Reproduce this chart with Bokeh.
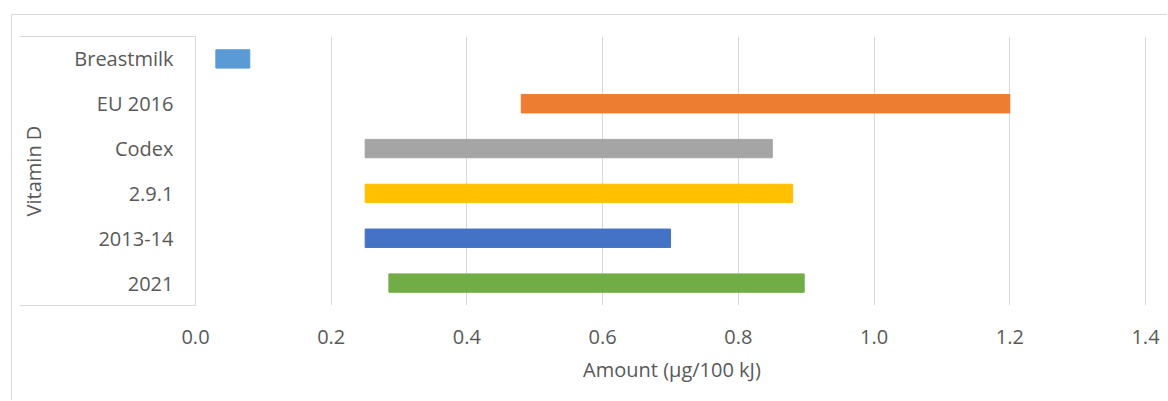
from bokeh.plotting import figure
from bokeh.models import Range1d, FixedTicker, NumeralTickFormatter
from bokeh.embed import file_html
from bokeh.resources import INLINE

# Vitamin D ranges (µg/100 kJ), listed bottom to top
sources = ["2021", "2013-14", "2.9.1", "Codex", "EU 2016", "Breastmilk"]
low = [0.285, 0.25, 0.25, 0.25, 0.48, 0.03]
high = [0.897, 0.70, 0.88, 0.85, 1.20, 0.08]
colors = ["#70AD47", "#4472C4", "#FFC000", "#A5A5A5", "#ED7D31", "#5B9BD5"]
x_ticks = [0.0, 0.2, 0.4, 0.6, 0.8, 1.0, 1.2, 1.4]
group_label = "Vitamin D"
x_title = "Amount (µg/100 kJ)"

FONT = "Open Sans"
SIZE = "20px"
TEXT = "#595959"
LINE = "#D9D9D9"

BOX_WIDTH = 176  # width of the category label box, px
LABEL_GAP = 22   # gap between category labels and the box edge, px

# one row per source, centred in its band
rows = [i + 0.5 for i in range(len(sources))]

p = figure(
    width=1156, height=386,
    y_range=Range1d(0, len(sources)),
    x_range=(0, 1.4044),
    output_backend="svg", toolbar_location=None,
    min_border_left=183, min_border_right=20,
    min_border_top=21, min_border_bottom=96,
    margin=(15, 0, 0, 12),
)
# light chart-area border along the top and left
p.styles = {"box-shadow": "-1px -1px 0 0 #D9D9D9"}
p.outline_line_color = None
p.background_fill_color = "white"
p.border_fill_color = "white"

p.hbar(y=rows, left=low, right=high, height=0.41, color=colors)

# value axis
xa = p.xaxis[0]
xa.ticker = FixedTicker(ticks=x_ticks)
xa.formatter = NumeralTickFormatter(format="0.0")
xa.axis_line_color = None
xa.major_tick_line_color = None
xa.major_tick_out = 0
xa.minor_tick_line_color = None
xa.minor_tick_out = 0
xa.major_label_standoff = 24
xa.major_label_text_font = FONT
xa.major_label_text_font_size = SIZE
xa.major_label_text_color = TEXT
xa.axis_label = x_title
xa.axis_label_text_font = FONT
xa.axis_label_text_font_size = SIZE
xa.axis_label_text_font_style = "normal"
xa.axis_label_text_color = TEXT
xa.axis_label_standoff = 9

# category axis; its minor ticks close the label box at top and bottom
ya = p.yaxis[0]
ya.ticker = FixedTicker(ticks=rows, minor_ticks=[0, len(sources)])
ya.major_label_overrides = {r: s for r, s in zip(rows, sources)}
ya.axis_line_color = LINE
ya.major_tick_line_color = None
ya.major_tick_out = 0
ya.minor_tick_line_color = LINE
ya.minor_tick_in = 0
ya.minor_tick_out = BOX_WIDTH
ya.major_label_standoff = LABEL_GAP - BOX_WIDTH
ya.major_label_text_font = FONT
ya.major_label_text_font_size = SIZE
ya.major_label_text_color = TEXT
ya.axis_label = group_label
ya.axis_label_text_font = FONT
ya.axis_label_text_font_size = SIZE
ya.axis_label_text_font_style = "normal"
ya.axis_label_text_color = TEXT
ya.axis_label_standoff = 24

p.xgrid.grid_line_color = LINE
p.ygrid.grid_line_color = None

open("out.html", "w").write(file_html(p, INLINE))
